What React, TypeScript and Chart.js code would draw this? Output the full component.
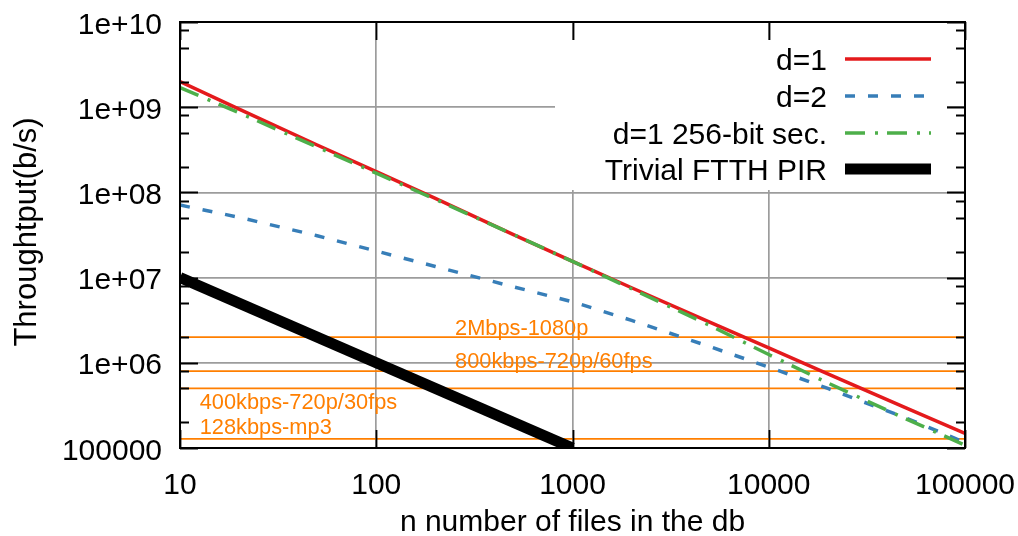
import { useEffect, useRef } from "react";
import { Chart, registerables } from "chart.js";

Chart.register(...registerables);

// ---- data ----
const nFiles = [10, 20, 50, 100, 200, 500, 1000, 2000, 5000, 10000, 20000, 50000, 100000];
const d1Throughput = [2.0e9, 9.5e8, 3.6e8, 1.75e8, 8.5e7, 3.2e7, 1.55e7, 7.6e6, 3.0e6, 1.5e6, 7.4e5, 2.95e5, 1.48e5];
const d2Throughput = [7.1e7, 5.1e7, 3.1e7, 2.05e7, 1.35e7, 7.8e6, 5.2e6, 3.15e6, 1.55e6, 8.9e5, 5.0e5, 2.25e5, 1.16e5];
const d1Sec256Throughput = [1.7e9, 8.6e8, 3.4e8, 1.68e8, 8.3e7, 3.2e7, 1.55e7, 7.4e6, 2.75e6, 1.25e6, 5.8e5, 2.2e5, 1.08e5];
const trivialFiles = [10, 1000];
const trivialThroughput = [1e7, 1e5];

const refRates = [2e6, 8e5, 5e5, 1.28e5];
const refLabels = ["2Mbps-1080p", "800kbps-720p/60fps", "400kbps-720p/30fps", "128kbps-mp3"];

const xTickValues = [10, 100, 1000, 10000, 100000];
const xTickLabels = ["10", "100", "1000", "10000", "100000"];
const yTickValues = [1e5, 1e6, 1e7, 1e8, 1e9, 1e10];
const yTickLabels = ["100000", "1e+06", "1e+07", "1e+08", "1e+09", "1e+10"];
const yMinorFactors = [2, 5, 8];

const seriesLabels = ["d=1", "d=2", "d=1 256-bit sec.", "Trivial FTTH PIR"];
const xTitle = "n number of files in the db";
const yTitle = "Throughtput(b/s)";

// ---- styles ----
const FONT = '"Liberation Sans", Arial, Helvetica, sans-serif';
const RED = "#e41a1c";
const BLUE = "#377eb8";
const GREEN = "#4daf4a";
const ORANGE = "#ff7f00";
const GRID = "#9c9c9c";

const seriesStyles = [
  { color: RED, width: 3.5, dash: [] as number[] },
  { color: BLUE, width: 3.5, dash: [10, 13] },
  { color: GREEN, width: 3.5, dash: [20, 10, 3, 9] },
  { color: "#000000", width: 11, dash: [] as number[] },
];

// label placement for reference lines: start x (data units) and vertical px offset of baseline
const refLabelPlacement = [
  { n: 252, dy: -2 },
  { n: 252, dy: -3 },
  { n: 12.6, dy: 21 },
  { n: 12.6, dy: -5 },
];

function drawText(
  ctx: CanvasRenderingContext2D,
  text: string,
  x: number,
  y: number,
  size: number,
  align: CanvasTextAlign,
  color = "#000",
  rotate = 0,
  sx = 1
) {
  ctx.save();
  ctx.translate(x, y);
  ctx.scale(sx, 1);
  if (rotate) ctx.rotate(rotate);
  ctx.font = `${size}px ${FONT}`;
  ctx.fillStyle = color;
  ctx.textAlign = align;
  ctx.textBaseline = "alphabetic";
  ctx.fillText(text, 0, 0);
  ctx.restore();
}

const LEGEND_BOX = { x: 555, y: 40, w: 392, h: 150 };

const decorPlugin = {
  id: "gnuplotDecor",
  beforeDatasetsDraw(chart: any) {
    const ctx: CanvasRenderingContext2D = chart.ctx;
    ctx.save();
    ctx.fillStyle = "#ffffff";
    ctx.fillRect(LEGEND_BOX.x, LEGEND_BOX.y, LEGEND_BOX.w, LEGEND_BOX.h);
    ctx.restore();
  },
  afterDraw(chart: any) {
    const ctx: CanvasRenderingContext2D = chart.ctx;
    const { left, right, top, bottom } = chart.chartArea;
    const xs = chart.scales.x;
    const ys = chart.scales.y;

    ctx.save();
    // ticks
    ctx.strokeStyle = "#000";
    ctx.lineWidth = 1.8;
    ctx.beginPath();
    xTickValues.forEach((v) => {
      const px = Math.round(xs.getPixelForValue(v)) + 0.5;
      ctx.moveTo(px, bottom);
      ctx.lineTo(px, bottom - 18);
      ctx.moveTo(px, top);
      ctx.lineTo(px, top + 18);
    });
    yTickValues.forEach((v) => {
      const py = Math.round(ys.getPixelForValue(v)) + 0.5;
      ctx.moveTo(left, py);
      ctx.lineTo(left + 18, py);
      ctx.moveTo(right, py);
      ctx.lineTo(right - 18, py);
    });
    yTickValues.slice(0, -1).forEach((v) => {
      yMinorFactors.forEach((f) => {
        const py = Math.round(ys.getPixelForValue(v * f)) + 0.5;
        ctx.moveTo(left, py);
        ctx.lineTo(left + 9, py);
        ctx.moveTo(right, py);
        ctx.lineTo(right - 9, py);
      });
    });
    ctx.stroke();

    // frame
    ctx.lineWidth = 2;
    ctx.strokeRect(left, top, right - left, bottom - top);
    ctx.restore();

    // tick labels
    yTickValues.forEach((v, i) => {
      const py = ys.getPixelForValue(v);
      drawText(ctx, yTickLabels[i], 162, py + 11.5, 30, "right");
    });
    xTickValues.forEach((v, i) => {
      const px = xs.getPixelForValue(v);
      drawText(ctx, xTickLabels[i], px, 494, 30, "center");
    });

    // axis titles
    drawText(ctx, xTitle, (left + right) / 2, 531, 30, "center");
    drawText(ctx, yTitle, 35.5, 232, 31, "center", "#000", -Math.PI / 2);

    // reference labels
    refRates.forEach((r, i) => {
      const pl = refLabelPlacement[i];
      const px = xs.getPixelForValue(pl.n);
      const py = ys.getPixelForValue(r);
      drawText(ctx, refLabels[i], px, py + pl.dy, 21.8, "left", ORANGE);
    });

    // legend
    const rowY = [59, 96, 133, 169];
    seriesLabels.forEach((lab, i) => {
      const yy = rowY[i];
      drawText(ctx, lab, 827, yy + 10.5, 30, "right");
      const st = seriesStyles[i];
      ctx.save();
      ctx.strokeStyle = st.color;
      ctx.lineWidth = st.width;
      ctx.setLineDash(st.dash);
      ctx.lineCap = "butt";
      ctx.beginPath();
      ctx.moveTo(845, yy);
      ctx.lineTo(931, yy);
      ctx.stroke();
      ctx.restore();
    });
  },
};

function toPoints(xsArr: number[], ysArr: number[]) {
  return xsArr.map((x, i) => ({ x, y: ysArr[i] }));
}

export default function App() {
  const ref = useRef<HTMLCanvasElement | null>(null);

  useEffect(() => {
    document.body.style.margin = "0";
    const canvas = ref.current;
    if (!canvas) return;

    const refDatasets = refRates.map((r) => ({
      label: "ref",
      data: [
        { x: xTickValues[0], y: r },
        { x: xTickValues[xTickValues.length - 1], y: r },
      ],
      borderColor: ORANGE,
      borderWidth: 1.7,
      pointRadius: 0,
      order: 10,
    }));

    const seriesData = [
      toPoints(nFiles, d1Throughput),
      toPoints(nFiles, d2Throughput),
      toPoints(nFiles, d1Sec256Throughput),
      toPoints(trivialFiles, trivialThroughput),
    ];

    const mainDatasets = seriesLabels.map((lab, i) => ({
      label: lab,
      data: seriesData[i],
      borderColor: seriesStyles[i].color,
      borderWidth: seriesStyles[i].width,
      borderDash: seriesStyles[i].dash,
      pointRadius: 0,
      tension: 0,
      order: 4 - i,
    }));

    const chart = new Chart(canvas, {
      type: "line",
      data: { datasets: [...mainDatasets, ...refDatasets] as any },
      options: {
        animation: false,
        responsive: false,
        maintainAspectRatio: false,
        layout: { padding: { left: 180, top: 22, right: 53, bottom: 88 } },
        plugins: { legend: { display: false }, tooltip: { enabled: false } },
        scales: {
          x: {
            type: "logarithmic",
            min: 10,
            max: 100000,
            ticks: { display: false },
            border: { display: false },
            grid: { color: GRID, lineWidth: 1.7, drawTicks: false },
            afterBuildTicks: (axis: any) => {
              axis.ticks = xTickValues.map((v) => ({ value: v }));
            },
            afterFit: (axis: any) => {
              axis.height = 0;
            },
          },
          y: {
            type: "logarithmic",
            min: 1e5,
            max: 1e10,
            ticks: { display: false },
            border: { display: false },
            grid: { color: GRID, lineWidth: 1.7, drawTicks: false },
            afterBuildTicks: (axis: any) => {
              axis.ticks = yTickValues.map((v) => ({ value: v }));
            },
            afterFit: (axis: any) => {
              axis.width = 0;
            },
          },
        },
      } as any,
      plugins: [decorPlugin],
    });

    return () => chart.destroy();
  }, []);

  return (
    <canvas
      ref={ref}
      width={1018}
      height={536}
      style={{ display: "block", position: "absolute", left: 0, top: 0, width: 1018, height: 536 }}
    />
  );
}
